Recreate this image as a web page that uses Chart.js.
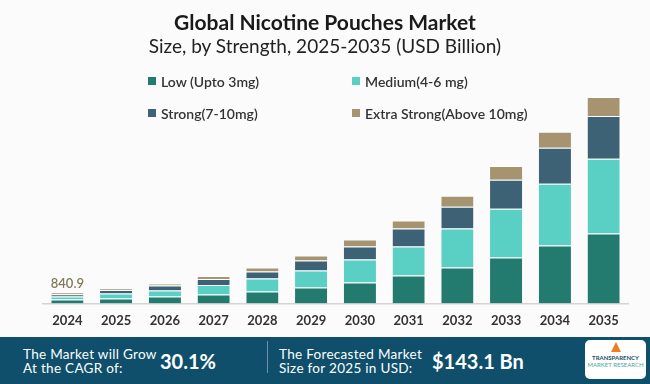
<!DOCTYPE html>
<html>
<head>
<meta charset="utf-8">
<script src="https://cdn.jsdelivr.net/npm/chart.js@4.4.1/dist/chart.umd.min.js"></script>
<style>
  html, body { margin: 0; padding: 0; }
  body { width: 650px; height: 384px; background: #fbfbfb; position: relative; overflow: hidden; font-family: Lato, "Open Sans", sans-serif; }
  #wrap { position: absolute; left: 0; top: 0; width: 650px; height: 384px; }
  .title { position: absolute; left: 0; width: 650px; text-align: center; color: #1a1a1a; }
  #t1 { top: 9px; font-size: 21px; font-weight: bold; }
  #t2 { top: 34px; font-size: 19px; color: #222; }
  #legend { position: absolute; left: 148px; top: 72px; display: grid; grid-template-columns: 204px 200px; row-gap: 14px; }
  .li { display: flex; align-items: center; font-size: 14px; font-weight: 600; color: #333; height: 18px; }
  .li i { display: inline-block; width: 8px; height: 8px; margin-right: 5px; }
  #foot { position: absolute; left: 0; top: 337px; width: 650px; height: 47px; background: #0f4f6c; color: #fff; }
  .ft { position: absolute; font-size: 13.5px; line-height: 14px; top: 10px; letter-spacing: 0.3px; }
  .fb { position: absolute; font-size: 20px; font-weight: bold; top: 12px; }
  #div { position: absolute; left: 267px; top: 4px; width: 1px; height: 32px; background: #6f93a6; }
  #logo { position: absolute; left: 585px; top: 3px; width: 61px; height: 39px; background: #fff; border-radius: 5px; font-size: 6px; text-align: center; line-height: 7px; }
  #logo b { display: block; color: #1d4e6a; margin-top: 14px; }
  #logo span { color: #4aa89c; }
  #arrow { position: absolute; left: 26px; top: 2px; width: 0; height: 0; border-left: 5px solid transparent; border-right: 5px solid transparent; border-bottom: 10px solid #ef7d22; }
</style>
</head>
<body>
<div id="wrap"><canvas id="c" width="650" height="384"></canvas></div>
<div class="title" id="t1">Global Nicotine Pouches Market</div>
<div class="title" id="t2">Size, by Strength, 2025-2035 (USD Billion)</div>
<div id="legend"></div>
<div id="foot">
  <div class="ft" style="left:23px;">The Market will Grow<br>At the CAGR of:</div>
  <div class="fb" style="left:160px;">30.1%</div>
  <div id="div"></div>
  <div class="ft" style="left:279px;">The Forecasted Market<br>Size for 2025 in USD:</div>
  <div class="fb" style="left:432px;">$143.1 Bn</div>
  <div id="logo"><div id="arrow"></div><b>TRANSPARENCY</b><span>MARKET RESEARCH</span></div>
</div>
<script>
const years = ["2024", "2025", "2026", "2027", "2028", "2029", "2030", "2031", "2032", "2033", "2034", "2035"];
const low = [305, 380, 530, 680, 910, 1215, 1600, 2130, 2740, 3500, 4410, 5320];
const medium = [230, 380, 455, 720, 990, 1290, 1750, 2200, 2960, 3720, 4710, 5700];
const strong = [155, 270, 380, 455, 530, 760, 990, 1370, 1670, 2200, 2740, 3270];
const extraStrong = [151, 115, 150, 230, 305, 380, 530, 610, 840, 1060, 1220, 1440];
const seriesNames = ["Low (Upto 3mg)", "Medium(4-6 mg)", "Strong(7-10mg)", "Extra Strong(Above 10mg)"];
const seriesColors = ["#237b70", "#5acfc4", "#3e6275", "#a6936f"];
const firstYearTotal = "840.9";

const series = [low, medium, strong, extraStrong];

const topLabel = {
  id: "topLabel",
  afterDatasetsDraw(chart) {
    const meta = chart.getDatasetMeta(chart.data.datasets.length - 1);
    const bar = meta.data[0];
    const ctx = chart.ctx;
    ctx.save();
    ctx.font = "600 13px Lato";
    ctx.fillStyle = "#857858";
    ctx.textAlign = "center";
    ctx.textBaseline = "bottom";
    ctx.fillText(firstYearTotal, bar.x, bar.y - 2);
    ctx.restore();
  }
};

const chart = new Chart(document.getElementById("c"), {
  type: "bar",
  data: {
    labels: years,
    datasets: series.map((d, i) => ({
      label: seriesNames[i],
      data: d,
      backgroundColor: seriesColors[i],
      borderColor: "#ffffff",
      borderWidth: { top: 1 },
      borderSkipped: false,
      categoryPercentage: 1,
      barPercentage: 0.66
    }))
  },
  options: {
    responsive: false,
    animation: false,
    layout: { padding: { left: 43, right: 22, top: 90, bottom: 45 } },
    plugins: { legend: { display: false }, tooltip: { enabled: false } },
    scales: {
      x: {
        stacked: true,
        grid: { display: false, drawTicks: false },
        border: { display: true, color: "#d4d4d4", width: 1.5 },
        ticks: { color: "#333", padding: 10, font: { family: "Lato", size: 13, weight: "bold" } }
      },
      y: { stacked: true, display: false, min: 0, max: 16264 }
    }
  },
  plugins: [topLabel]
});

const lg = document.getElementById("legend");
chart.data.datasets.forEach(ds => {
  const el = document.createElement("div");
  el.className = "li";
  el.innerHTML = `<i style="background:${ds.backgroundColor}"></i>${ds.label}`;
  lg.appendChild(el);
});
</script>
</body>
</html>
